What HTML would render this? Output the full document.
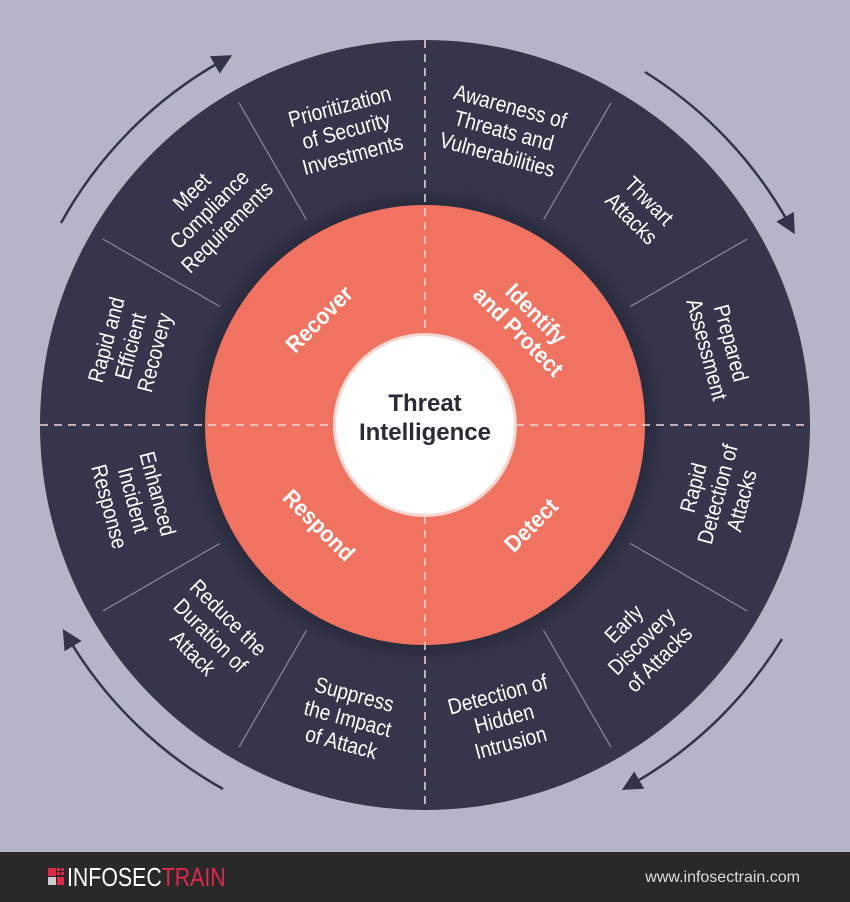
<!DOCTYPE html>
<html><head><meta charset="utf-8"><style>
html,body{margin:0;padding:0;width:850px;height:902px;overflow:hidden;background:#b4b6c8}
svg{display:block}
.o{font-family:"Liberation Sans",sans-serif;font-size:22px;fill:#fff;text-anchor:middle}
.i{font-family:"Liberation Sans",sans-serif;font-size:23px;font-weight:bold;fill:#fff;text-anchor:middle}
</style></head><body>
<svg width="850" height="902" viewBox="0 0 850 902">
<defs>
<marker id="ah" markerWidth="24" markerHeight="24" refX="6" refY="10" orient="auto" markerUnits="userSpaceOnUse">
<path d="M0,0 L20,10 L0,20 Z" fill="#33334a"/>
</marker>
<radialGradient id="sh" cx="0.5" cy="0.5" r="0.5">
<stop offset="0.85" stop-color="#000" stop-opacity="0.35"/>
<stop offset="1" stop-color="#000" stop-opacity="0"/>
</radialGradient>
</defs>
<rect width="850" height="852" fill="#b4b6c8"/>
<circle cx="425" cy="425" r="385" fill="#35354c"/>
<circle cx="425" cy="425" r="240" fill="url(#sh)"/>
<g stroke="#8e8c9c" stroke-width="1.2">
<g id="dv"><line x1="425" y1="188" x2="425" y2="53" transform="rotate(30 425 425)"/>
<line x1="425" y1="188" x2="425" y2="53" transform="rotate(60 425 425)"/></g>
<use href="#dv" transform="rotate(90 425 425)"/>
<use href="#dv" transform="rotate(180 425 425)"/>
<use href="#dv" transform="rotate(270 425 425)"/>
</g>
<circle cx="425" cy="425" r="220" fill="#f07361"/>
<g stroke="#eed6d6" stroke-width="1.5" stroke-dasharray="8 6">
<line x1="425" y1="40" x2="425" y2="810"/>
<line x1="40" y1="425" x2="810" y2="425"/>
</g>
<circle cx="425" cy="425" r="92" fill="#f6d6d0"/>
<circle cx="425" cy="425" r="89" fill="#fff"/>
<text x="425" y="411" font-family="Liberation Sans, sans-serif" font-size="24" font-weight="bold" fill="#2b2b38" text-anchor="middle">Threat</text>
<text x="425" y="440" font-family="Liberation Sans, sans-serif" font-size="24" font-weight="bold" fill="#2b2b38" text-anchor="middle">Intelligence</text>

<g class="i">
<text transform="translate(319,319) rotate(-45) scale(0.92,1)" y="8">Recover</text>
<text transform="translate(527,323) rotate(45) scale(0.92,1)"><tspan x="0" y="-5">Identify</tspan><tspan x="0" y="20">and Protect</tspan></text>
<text transform="translate(531,525) rotate(-45) scale(0.92,1)" y="8">Detect</text>
<text transform="translate(319,525) rotate(45) scale(0.92,1)" y="8">Respond</text>
</g>

<g class="o">
<text transform="translate(504,130) rotate(15) scale(0.87,1)"><tspan x="0" y="-17">Awareness of</tspan><tspan x="0" y="8">Threats and</tspan><tspan x="0" y="33">Vulnerabilities</tspan></text>
<text transform="translate(641,209) rotate(45) scale(0.87,1)"><tspan x="0" y="-4">Thwart</tspan><tspan x="0" y="21">Attacks</tspan></text>
<text transform="translate(720,346) rotate(75) scale(0.87,1)"><tspan x="0" y="-4">Prepared</tspan><tspan x="0" y="21">Assessment</tspan></text>
<text transform="translate(717,494) rotate(-75) scale(0.87,1)"><tspan x="0" y="-17">Rapid</tspan><tspan x="0" y="8">Detection of</tspan><tspan x="0" y="33">Attacks</tspan></text>
<text transform="translate(641,641) rotate(-45) scale(0.87,1)"><tspan x="0" y="-17">Early</tspan><tspan x="0" y="8">Discovery</tspan><tspan x="0" y="33">of Attacks</tspan></text>
<text transform="translate(504,718) rotate(-15) scale(0.87,1)"><tspan x="0" y="-17">Detection of</tspan><tspan x="0" y="8">Hidden</tspan><tspan x="0" y="33">Intrusion</tspan></text>
<text transform="translate(348,718) rotate(15) scale(0.87,1)"><tspan x="0" y="-17">Suppress</tspan><tspan x="0" y="8">the Impact</tspan><tspan x="0" y="33">of Attack</tspan></text>
<text transform="translate(211,635) rotate(45) scale(0.87,1)"><tspan x="0" y="-17">Reduce the</tspan><tspan x="0" y="8">Duration of</tspan><tspan x="0" y="33">Attack</tspan></text>
<text transform="translate(134,500) rotate(75) scale(0.87,1)"><tspan x="0" y="-17">Enhanced</tspan><tspan x="0" y="8">Incident</tspan><tspan x="0" y="33">Response</tspan></text>
<text transform="translate(130,346) rotate(-75) scale(0.87,1)"><tspan x="0" y="-17">Rapid and</tspan><tspan x="0" y="8">Efficient</tspan><tspan x="0" y="33">Recovery</tspan></text>
<text transform="translate(209,209) rotate(-45) scale(0.87,1)"><tspan x="0" y="-17">Meet</tspan><tspan x="0" y="8">Compliance</tspan><tspan x="0" y="33">Requirements</tspan></text>
<text transform="translate(346,130) rotate(-15) scale(0.87,1)"><tspan x="0" y="-17">Prioritization</tspan><tspan x="0" y="8">of Security</tspan><tspan x="0" y="33">Investments</tspan></text>
</g>

<g fill="none" stroke="#33334a" stroke-width="2.5">
<path d="M645,72 A416,416 0 0 1 788,222" marker-end="url(#ah)"/>
<path d="M782,639 A416,416 0 0 1 634,783" marker-end="url(#ah)"/>
<path d="M223,789 A416,416 0 0 1 70,641" marker-end="url(#ah)"/>
<path d="M61,223 A416,416 0 0 1 220,62" marker-end="url(#ah)"/>
</g>

<rect x="0" y="852" width="850" height="50" fill="#2a292a"/>
<g>
<rect x="48" y="868" width="8" height="8" fill="#e0284a"/>
<rect x="57" y="868" width="3" height="3" fill="#e0284a"/><rect x="61" y="868" width="3" height="3" fill="#e0284a"/>
<rect x="57" y="872" width="3" height="3" fill="#e0284a"/><rect x="61" y="872" width="3" height="3" fill="#e0284a"/>
<rect x="48" y="877" width="8" height="8" fill="#ccc"/>
<rect x="57" y="877" width="7" height="8" fill="#e0284a"/>
</g>
<text transform="translate(67,886) scale(0.82,1)" font-family="Liberation Sans, sans-serif" font-size="26" fill="#fff">INFOSEC<tspan fill="#e0284a">TRAIN</tspan></text>
<text x="800" y="882" font-family="Liberation Sans, sans-serif" font-size="16" fill="#ddd" text-anchor="end">www.infosectrain.com</text>
</svg>
</body></html>
